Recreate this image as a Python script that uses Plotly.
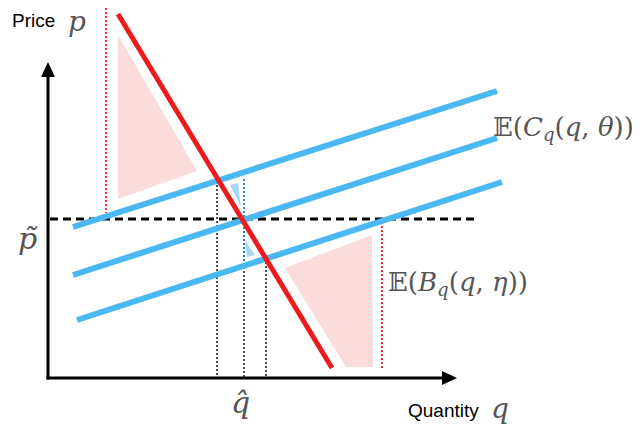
import plotly.graph_objects as go

# Diagram geometry (in pixel units of the canvas)
demand_q = [118, 332]
demand_p = [14, 368]

supply_left_q = [73, 73, 77]
supply_left_p = [227, 275, 320]
supply_right_q = [497, 497, 502]
supply_right_p = [91, 138, 182]

pink_upper_q = [118, 118, 197]
pink_upper_p = [35, 199, 171]
pink_lower_q = [285, 372, 373, 346]
pink_lower_p = [268, 235, 367, 367]

blue_tri_upper_q = [230, 238, 241]
blue_tri_upper_p = [185, 183, 207]
blue_tri_lower_q = [245, 247, 255]
blue_tri_lower_p = [240, 257, 255]

p_tilde = 219
price_dash_q = [50, 477]

black_dot_q = [217, 244, 266]
black_dot_top = [185, 219, 258]
blue_dot_q = 244
blue_dot_p = [179, 262]

red_dot_q = [106, 382]
red_dot_top = [4, 222]
red_dot_bot = [213, 369]

origin = (48, 378)
y_axis_top = 62
x_axis_end = 457

# page body has an 8px margin: shift the canvas so data units equal window pixels
OFF = 8
W, H = 640, 425

fig = go.Figure()

def poly(xs, ys, color):
    fig.add_trace(go.Scatter(x=xs + [xs[0]], y=ys + [ys[0]], fill="toself",
                             fillcolor=color, line=dict(width=0), mode="lines",
                             hoverinfo="skip"))

def seg(xs, ys, color, width, dash="solid"):
    fig.add_trace(go.Scatter(x=xs, y=ys, mode="lines",
                             line=dict(color=color, width=width, dash=dash),
                             hoverinfo="skip"))

# shaded regions
poly(pink_upper_q, pink_upper_p, "#fbdcdc")
poly(pink_lower_q, pink_lower_p, "#fbdcdc")
poly(blue_tri_upper_q, blue_tri_upper_p, "#a8d6f8")
poly(blue_tri_lower_q, blue_tri_lower_p, "#a8d6f8")

# dotted verticals
for q, top in zip(black_dot_q, black_dot_top):
    seg([q, q], [top, origin[1]], "#222222", 1.6, "2px,2px")
seg([blue_dot_q, blue_dot_q], blue_dot_p, "#1f7fc8", 1.8, "2px,2px")
for q, top, bot in zip(red_dot_q, red_dot_top, red_dot_bot):
    seg([q, q], [top, bot], "#e8201e", 1.8, "2px,2px")

# horizontal dashed price line
seg(price_dash_q, [p_tilde, p_tilde], "black", 3, "8px,5px")

# supply curves
for lq, lp, rq, rp in zip(supply_left_q, supply_left_p, supply_right_q, supply_right_p):
    seg([lq, rq], [lp, rp], "#4ab8f2", 6)

# demand curve
seg(demand_q, demand_p, "#ec1c1c", 5)

# axes
seg([origin[0], origin[0]], [origin[1] + 1.5, y_axis_top + 10], "black", 3)
seg([origin[0] - 1.5, x_axis_end - 10], [origin[1], origin[1]], "black", 3)
poly([origin[0], origin[0] - 7, origin[0] + 7], [y_axis_top, y_axis_top + 15, y_axis_top + 15], "black")
poly([x_axis_end, x_axis_end - 15, x_axis_end - 15], [origin[1], origin[1] - 7, origin[1] + 7], "black")

sans = "Liberation Sans"
serif = "DejaVu Serif"
gray = "#555555"

def txt(x, y, s, size, family, color="black", xanchor="center"):
    fig.add_annotation(x=x, y=y, text=s, showarrow=False, xref="x", yref="y",
                       font=dict(size=size, family=family, color=color),
                       xanchor=xanchor, yanchor="middle")

txt(33, 20, "Price", 19, sans)
txt(77, 21, "<i>p</i>", 28, serif, gray)
txt(28, 238, "<i>p̃</i>", 30, serif, gray)
txt(240, 402, "<i>q̂</i>", 30, serif, gray)
txt(443, 410, "Quantity", 19, sans)
txt(500, 408, "<i>q</i>", 28, serif, gray)
txt(491, 128, "𝔼(<i>C</i><sub><i>q</i></sub>(<i>q</i>, <i>θ</i>))", 26, serif, gray, "left")
txt(386, 283, "𝔼(<i>B</i><sub><i>q</i></sub>(<i>q</i>, <i>η</i>))", 26, serif, gray, "left")

fig.update_layout(
    width=W - OFF, height=H - OFF, margin=dict(l=0, r=0, t=0, b=0),
    paper_bgcolor="white", plot_bgcolor="white", showlegend=False,
    xaxis=dict(range=[OFF, W], visible=False, fixedrange=True),
    yaxis=dict(range=[H, OFF], visible=False, fixedrange=True),
)

fig.write_html("out.html")
